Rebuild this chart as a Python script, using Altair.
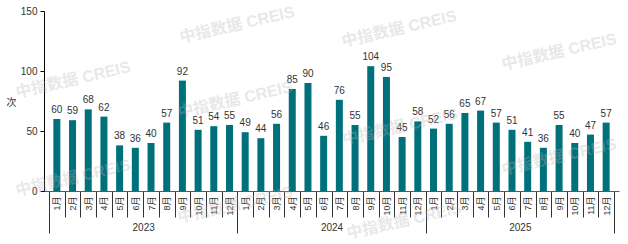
import altair as alt
import pandas as pd

years = ["2023", "2024", "2025"]
months = [f"{m}月" for m in range(1, 13)]
values_2023 = [60, 59, 68, 62, 38, 36, 40, 57, 92, 51, 54, 55]
values_2024 = [49, 44, 56, 85, 90, 46, 76, 55, 104, 95, 45, 58]
values_2025 = [52, 56, 65, 67, 57, 51, 41, 36, 55, 40, 47, 57]
y_ticks = [0, 50, 100, 150]
watermark_text = "中指数据 CREIS"

rows = []
for yi, (yr, vals) in enumerate(zip(years, [values_2023, values_2024, values_2025])):
    for mi, (m, v) in enumerate(zip(months, vals)):
        rows.append({"year": yr, "month": m, "pos": yi * 12 + mi + 0.5, "value": v})
df = pd.DataFrame(rows)
n = len(df)

FONT = "Liberation Sans, Noto Sans CJK SC, sans-serif"
TEAL = "#00707A"
TXT = "#333333"

xscale = alt.Scale(domain=[0, n], nice=False, zero=False)
yscale = alt.Scale(domain=[0, 150], nice=False)

bars = alt.Chart(df).mark_bar(width=7, color=TEAL).encode(
    x=alt.X("pos:Q", scale=xscale, title=None,
            axis=alt.Axis(orient="bottom", values=list(range(n + 1)), labels=False,
                          grid=False, domain=True, domainColor="#595959", domainWidth=1,
                          ticks=True, tickColor="#333333", tickWidth=1,
                          tickSize={"condition": {"test": "datum.value % 12 === 0", "value": 42},
                                    "value": 26})),
    y=alt.Y("value:Q", scale=yscale,
            axis=alt.Axis(values=y_ticks, title="次", titleAngle=0, titleX=-33, titleY=91,
                          titleAlign="center", titleBaseline="middle", titleFontSize=10,
                          titleFont=FONT, titleFontWeight="normal", titleColor=TXT,
                          labelFontSize=10, labelFont=FONT, labelColor=TXT, labelPadding=3,
                          tickSize=4, tickColor="#000000", domainColor="#000000", grid=False)),
)

month_expr = "(floor(datum.value) % 12 + 1) + '月'"
labels = alt.Chart(df).mark_text(baseline="alphabetic", dy=-6, fontSize=10, color=TXT, font=FONT).encode(
    x=alt.X("pos:Q", scale=xscale, title=None,
            axis=alt.Axis(orient="bottom", values=[i + 0.5 for i in range(n)], labelExpr=month_expr,
                          labelAngle=-90, ticks=False, domain=False, grid=False,
                          labelFontSize=9, labelFont=FONT, labelColor=TXT, labelPadding=5,
                          labelOverlap=False, labelFlush=False)),
    y=alt.Y("value:Q", scale=yscale, axis=None),
    text="value:Q",
)

year_expr = "[" + ",".join(f"'{y}'" for y in years) + "][floor(datum.value / 12)]"
year_layer = alt.Chart(df).mark_point(opacity=0).encode(
    x=alt.X("pos:Q", scale=xscale, title=None,
            axis=alt.Axis(orient="bottom", values=[6, 18, 30], labelExpr=year_expr,
                          labelAngle=0, ticks=False, domain=False, grid=False,
                          labelFontSize=10, labelFont=FONT, labelColor=TXT, labelPadding=31,
                          labelOverlap=False, labelFlush=False)),
    y=alt.Y("value:Q", scale=yscale, axis=None),
)

# faint watermark (pixel positions relative to the plot area)
wm_spots = [(29, 69), (29, 167), (193, 14), (191, 89), (191, 194),
            (355, 18), (356, 116), (360, 210), (515, 41), (515, 146)]
wm_layers = []
for (px, py) in wm_spots:
    wm_layers.append(
        alt.Chart(alt.Data(values=[{"t": watermark_text}])).mark_text(
            fontSize=16, fontWeight="bold", font=FONT, color="#b4b4b4", opacity=0.3,
            angle=347, align="center", baseline="middle"
        ).encode(x=alt.value(px), y=alt.value(py), text="t:N")
    )

chart = alt.layer(bars, labels, year_layer, *wm_layers).resolve_axis(
    x="independent", y="independent"
).properties(
    width=575, height=180,
    padding={"left": 44, "top": 11, "right": 9, "bottom": 53},
    autosize=alt.AutoSizeParams(type="none"),
).configure_view(stroke=None)

chart.save("out.html", embed_options={"renderer": "svg", "actions": False})
